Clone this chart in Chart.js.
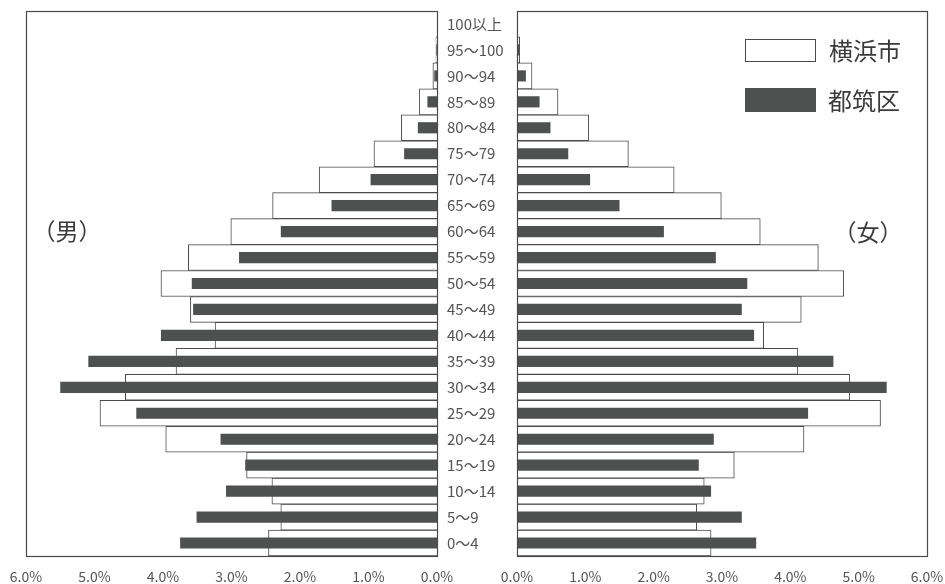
<!DOCTYPE html>
<html><head><meta charset="utf-8">
<script src="https://cdn.jsdelivr.net/npm/chart.js@4.4.1/dist/chart.umd.min.js"></script>
<style>
html,body{margin:0;padding:0;background:#fff;}
#wrap{position:relative;width:945px;height:584px;overflow:hidden;font-family:"Noto Sans CJK JP","Noto Sans",sans-serif;}
canvas{position:absolute;top:0;}
#cL{left:0;}
#cR{left:437px;}
.lbl{position:absolute;color:#3a3a3a;font-size:23px;line-height:1;white-space:nowrap;transform:translateY(-50%);}
.lg{font-size:24px;}
.ctr{transform:translate(-50%,-50%);}
.box{position:absolute;box-sizing:border-box;}
</style></head><body>
<div id="wrap">
<canvas id="cL" width="470" height="584"></canvas>
<canvas id="cR" width="508" height="584"></canvas>
<div class="lbl ctr" style="left:67px;top:230px;">（男）</div>
<div class="lbl ctr" style="left:868px;top:231px;">（女）</div>
<div class="box" id="lgBox0" style="left:745px;top:39px;width:71px;height:23px;"></div>
<div class="lbl lg" id="lgTxt0" style="left:829px;top:50px;"></div>
<div class="box" id="lgBox1" style="left:745px;top:88px;width:71px;height:24px;"></div>
<div class="lbl lg" id="lgTxt1" style="left:828px;top:100px;"></div>
</div>
<script>
// Age groups (bottom to top)
const ageLabels = ['0～4','5～9','10～14','15～19','20～24','25～29','30～34','35～39','40～44','45～49','50～54','55～59','60～64','65～69','70～74','75～79','80～84','85～89','90～94','95～100','100以上'];
const xTickLabels = ['0.0%','1.0%','2.0%','3.0%','4.0%','5.0%','6.0%'];
const seriesNames = ['横浜市','都筑区'];

// Male (%)
const yokohamaMale = [2.46,2.28,2.41,2.78,3.96,4.92,4.55,3.81,3.24,3.60,4.03,3.63,3.01,2.40,1.72,0.92,0.52,0.26,0.06,0.015,0];
const tsuzukiMale  = [3.75,3.51,3.08,2.80,3.16,4.39,5.50,5.09,4.03,3.56,3.58,2.89,2.28,1.54,0.97,0.48,0.28,0.14,0.04,0.01,0];
// Female (%)
const yokohamaFemale = [2.84,2.63,2.74,3.18,4.20,5.32,4.87,4.11,3.61,4.16,4.78,4.41,3.56,2.99,2.30,1.63,1.05,0.60,0.22,0.04,0];
const tsuzukiFemale  = [3.50,3.29,2.84,2.66,2.88,4.26,5.41,4.63,3.47,3.29,3.37,2.91,2.15,1.50,1.07,0.75,0.49,0.33,0.13,0.03,0];

const COLOR_YOKO = '#ffffff';
const COLOR_TSU = '#4e514f';
const EDGE = '#4a4a4a';
const FONT = '"Noto Sans CJK JP","Noto Sans",sans-serif';

const framePlugin = {
  id: 'frame',
  afterDraw(chart) {
    const {ctx, chartArea: a} = chart;
    ctx.save();
    ctx.strokeStyle = EDGE;
    ctx.lineWidth = 1.2;
    ctx.strokeRect(Math.round(a.left) + 0.5, Math.round(a.top) + 0.5, Math.round(a.right - a.left), Math.round(a.bottom - a.top));
    ctx.restore();
  }
};

function makeChart(id, yoko, tsu, isLeft) {
  return new Chart(document.getElementById(id), {
    type: 'bar',
    data: {
      labels: ageLabels,
      datasets: [
        {label: seriesNames[0], data: yoko, backgroundColor: COLOR_YOKO, borderColor: EDGE, borderWidth: 1,
         barPercentage: 1, categoryPercentage: 1, grouped: false, order: 1},
        {label: seriesNames[1], data: tsu, backgroundColor: COLOR_TSU, borderWidth: 0,
         barPercentage: 0.43, categoryPercentage: 1, grouped: false, order: 0}
      ]
    },
    options: {
      indexAxis: 'y',
      responsive: false,
      animation: false,
      devicePixelRatio: 1,
      layout: {padding: isLeft ? {left: 26, right: 33, top: 11, bottom: 0} : {left: 10, right: 18, top: 11, bottom: 0}},
      plugins: {legend: {display: false}, tooltip: {enabled: false}},
      scales: {
        x: {
          type: 'linear', min: 0, max: 6, reverse: isLeft,
          grid: {display: false, drawTicks: true, tickLength: 12}, border: {display: false},
          ticks: {stepSize: 1, padding: 0, color: '#555', font: {family: FONT, size: 14}, maxRotation: 0, autoSkip: false,
                  callback: (v) => xTickLabels[Math.round(v)]},
          afterFit(s) { s.height = 28; }
        },
        y: {
          type: 'category', reverse: true, display: !isLeft,
          grid: {display: false, drawTicks: false}, border: {display: false},
          ticks: {crossAlign: 'far', padding: 0, color: '#555', font: {family: FONT, size: 15}, autoSkip: false},
          afterFit(s) { if (!isLeft) s.width = 70; }
        }
      }
    },
    plugins: [framePlugin]
  });
}

const chartL = makeChart('cL', yokohamaMale, tsuzukiMale, true);
const chartR = makeChart('cR', yokohamaFemale, tsuzukiFemale, false);

// Legend (HTML) from dataset styling
const ds = chartR.data.datasets;
const b0 = document.getElementById('lgBox0');
b0.style.background = ds[0].backgroundColor; b0.style.border = '1.5px solid ' + EDGE;
document.getElementById('lgTxt0').textContent = ds[0].label;
const b1 = document.getElementById('lgBox1');
b1.style.background = ds[1].backgroundColor;
document.getElementById('lgTxt1').textContent = ds[1].label;
</script>
</body></html>
